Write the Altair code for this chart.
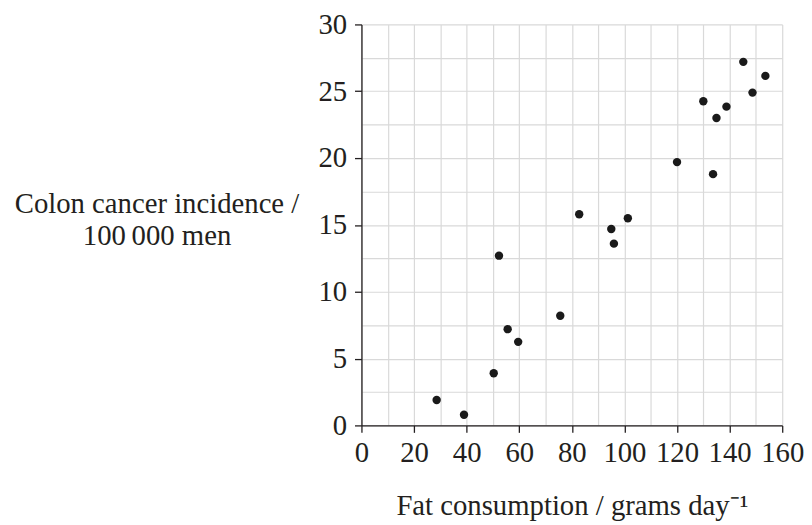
import altair as alt
import pandas as pd

# Data
fat = [28.6, 39.0, 50.3, 52.3, 55.6, 59.6, 75.6, 82.8, 95.0, 96.0, 101.3,
       120.0, 130.0, 133.7, 135.0, 138.8, 145.2, 148.7, 153.6]
incidence = [1.9, 0.8, 3.9, 12.7, 7.2, 6.25, 8.2, 15.8, 14.7, 13.6, 15.5,
             19.7, 24.25, 18.8, 23.0, 23.85, 27.2, 24.9, 26.15]

x_grid = list(range(0, 161, 10))
y_grid = [i * 2.5 for i in range(0, 13)]

df = pd.DataFrame({"fat": fat, "incidence": incidence})

FONT = "Liberation Serif"
FS = 29

chart = alt.Chart(df).mark_circle(size=72, color="#1a1a1a", opacity=1).encode(
    x=alt.X(
        "fat:Q",
        scale=alt.Scale(domain=[0, 160], nice=False, zero=True),
        axis=alt.Axis(
            values=x_grid,
            labelExpr="datum.value % 20 === 0 ? datum.label : ''",
            tickOpacity={"condition": {"test": "datum.value % 20 === 0", "value": 1}, "value": 0},
            title="Fat consumption / grams day\u207b\u00b9",
            titleFont=FONT, titleFontSize=FS, titleFontWeight="normal",
            titleColor="#231f20", titleBaseline="alphabetic",
            titleY=90, titlePadding=0,
            labelFont=FONT, labelFontSize=FS, labelColor="#231f20",
            labelPadding=6, labelFlush=False,
            tickSize=7, tickColor="#231f20", tickWidth=1.3,
            domainColor="#231f20", domainWidth=1.3,
            grid=True, gridColor="#d9d9d9", gridWidth=1.2,
        ),
    ),
    y=alt.Y(
        "incidence:Q",
        scale=alt.Scale(domain=[0, 30], nice=False),
        axis=alt.Axis(
            values=y_grid,
            labelExpr="datum.value % 5 === 0 ? datum.label : ''",
            tickOpacity={"condition": {"test": "datum.value % 5 === 0", "value": 1}, "value": 0},
            title=["Colon cancer incidence /", "100\u2009000 men"],
            titleFont=FONT, titleFontSize=FS, titleFontWeight="normal",
            titleColor="#231f20", titleAngle=0, titleAlign="center",
            titleBaseline="alphabetic", titleX=-207, titleY=190,
            titleLineHeight=32,
            labelFont=FONT, labelFontSize=FS, labelColor="#231f20",
            labelPadding=8, labelFlush=False,
            tickSize=7, tickColor="#231f20", tickWidth=1.3,
            domainColor="#231f20", domainWidth=1.3,
            grid=True, gridColor="#d9d9d9", gridWidth=1.2,
        ),
    ),
).properties(
    width=425,
    height=405,
    autosize=alt.AutoSizeParams(type="none"),
    padding={"left": 357, "top": 14, "right": 22, "bottom": 98},
).configure_view(strokeWidth=0)

chart.save("out.html", embed_options={"renderer": "svg", "actions": False})
